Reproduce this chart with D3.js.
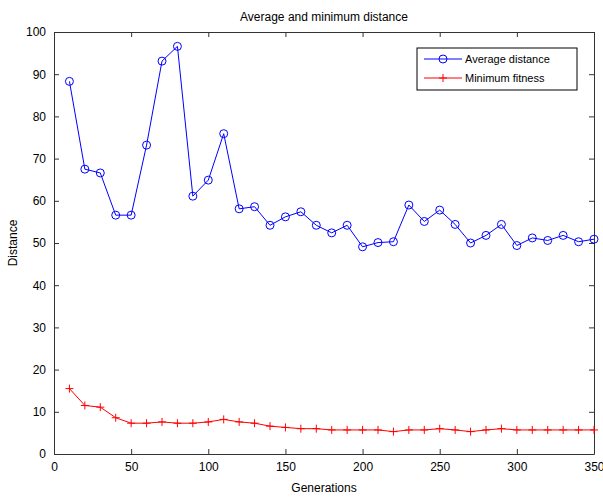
<!DOCTYPE html>
<html>
<head>
<meta charset="utf-8">
<script src="https://cdn.jsdelivr.net/npm/d3@7"></script>
<style>
  body { margin: 0; background: #fff; }
  text { font-family: "Liberation Sans", Arial, sans-serif; }
</style>
</head>
<body>
<script>
// data
const generations = [10, 20, 30, 40, 50, 60, 70, 80, 90, 100, 110, 120, 130, 140, 150, 160, 170, 180,
    190, 200, 210, 220, 230, 240, 250, 260, 270, 280, 290, 300, 310, 320, 330, 340, 350]
const avgDistance = [88.3, 67.5, 66.6, 56.6, 56.6, 73.2, 93.1, 96.6, 61.1, 64.9, 75.9, 58.1, 58.6, 54.2,
    56.2, 57.4, 54.2, 52.4, 54.2, 49.1, 50.1, 50.3, 59.0, 55.1, 57.8, 54.4, 50.0, 51.8, 54.4, 49.4,
    51.2, 50.6, 51.8, 50.3, 50.9]
const minFitness = [15.5, 11.5, 11.1, 8.6, 7.3, 7.3, 7.6, 7.3, 7.3, 7.6, 8.2, 7.6, 7.3, 6.6, 6.3, 6.0,
    6.0, 5.7, 5.7, 5.7, 5.7, 5.3, 5.7, 5.7, 6.0, 5.7, 5.3, 5.7, 6.0, 5.7, 5.7, 5.7, 5.7, 5.7, 5.7]
const xTicks = [0, 50, 100, 150, 200, 250, 300, 350]
const yTicks = [0, 10, 20, 30, 40, 50, 60, 70, 80, 90, 100]
const seriesNames = ['Average distance', 'Minimum fitness']

const w = 603
const h = 497
const pL = 54, pR = 594, pT = 32, pB = 454

const x = d3.scaleLinear().domain([0, 350]).range([pL, pR])
const y = d3.scaleLinear().domain([0, 100]).range([pB, pT])

const svg = d3.select('body').append('svg')
    .attr('width', w)
    .attr('height', h)

const axisColor = '#333'

// axes with inward ticks, also on top and right
const xAxis = d3.axisBottom(x).tickValues(xTicks).tickSizeInner(-5).tickSizeOuter(0).tickPadding(8)
const yAxis = d3.axisLeft(y).tickValues(yTicks).tickSizeInner(-5).tickSizeOuter(0).tickPadding(8)

const gx = svg.append('g').attr('transform', `translate(0,${pB})`).call(xAxis)
const gy = svg.append('g').attr('transform', `translate(${pL},0)`).call(yAxis)
const gx2 = svg.append('g').attr('transform', `translate(0,${pT})`)
    .call(d3.axisTop(x).tickValues(xTicks).tickSizeInner(-5).tickSizeOuter(0).tickFormat(''))
const gy2 = svg.append('g').attr('transform', `translate(${pR},0)`)
    .call(d3.axisRight(y).tickValues(yTicks).tickSizeInner(-5).tickSizeOuter(0).tickFormat(''))

;[gx, gy, gx2, gy2].forEach(g => {
    g.select('.domain').attr('stroke', axisColor)
    g.selectAll('.tick line').attr('stroke', axisColor)
    g.selectAll('.tick text').attr('fill', '#000').style('font-size', '12px')
        .style('font-family', '"Liberation Sans", Arial, sans-serif')
})

// title and labels
svg.append('text')
    .attr('x', (pL + pR) / 2)
    .attr('y', 21)
    .attr('text-anchor', 'middle')
    .style('font-size', '12px')
    .text('Average and minimum distance')

svg.append('text')
    .attr('x', (pL + pR) / 2)
    .attr('y', 492)
    .attr('text-anchor', 'middle')
    .style('font-size', '12px')
    .text('Generations')

svg.append('text')
    .attr('transform', `translate(17,${(pT + pB) / 2}) rotate(-90)`)
    .attr('text-anchor', 'middle')
    .style('font-size', '12px')
    .text('Distance')

const blue = '#0000ff'
const red = '#ff0000'

const line = d3.line().x(d => x(d[0])).y(d => y(d[1]))

const avgData = generations.map((g, i) => [g, avgDistance[i]])
const minData = generations.map((g, i) => [g, minFitness[i]])

// minimum fitness, red with plus markers
svg.append('path')
    .datum(minData)
    .attr('d', line)
    .attr('fill', 'none')
    .attr('stroke', red)
    .attr('stroke-width', 1)

svg.selectAll('.plus')
    .data(minData)
    .enter()
    .append('path')
    .attr('class', 'plus')
    .attr('d', d => `M${x(d[0]) - 4},${y(d[1])}h8M${x(d[0])},${y(d[1]) - 4}v8`)
    .attr('stroke', red)
    .attr('stroke-width', 1)

// average distance, blue with circle markers
svg.append('path')
    .datum(avgData)
    .attr('d', line)
    .attr('fill', 'none')
    .attr('stroke', blue)
    .attr('stroke-width', 1)

svg.selectAll('.circ')
    .data(avgData)
    .enter()
    .append('circle')
    .attr('class', 'circ')
    .attr('cx', d => x(d[0]))
    .attr('cy', d => y(d[1]))
    .attr('r', 4)
    .attr('fill', 'none')
    .attr('stroke', blue)
    .attr('stroke-width', 1)

// legend
const lg = svg.append('g').attr('transform', 'translate(417,48)')
lg.append('rect')
    .attr('width', 160)
    .attr('height', 42)
    .attr('fill', '#fff')
    .attr('stroke', '#000')
    .attr('stroke-width', 1)

const colors = [blue, red]
seriesNames.forEach((name, i) => {
    const cy = 11 + i * 19
    lg.append('line')
        .attr('x1', 7).attr('x2', 45).attr('y1', cy).attr('y2', cy)
        .attr('stroke', colors[i])
    if (i === 0) {
        lg.append('circle').attr('cx', 26).attr('cy', cy).attr('r', 4)
            .attr('fill', 'none').attr('stroke', blue)
    } else {
        lg.append('path').attr('d', `M22,${cy}h8M26,${cy - 4}v8`).attr('stroke', red)
    }
    lg.append('text')
        .attr('x', 48)
        .attr('y', cy + 4)
        .style('font-size', '11px')
        .text(name)
})
</script>
</body>
</html>
